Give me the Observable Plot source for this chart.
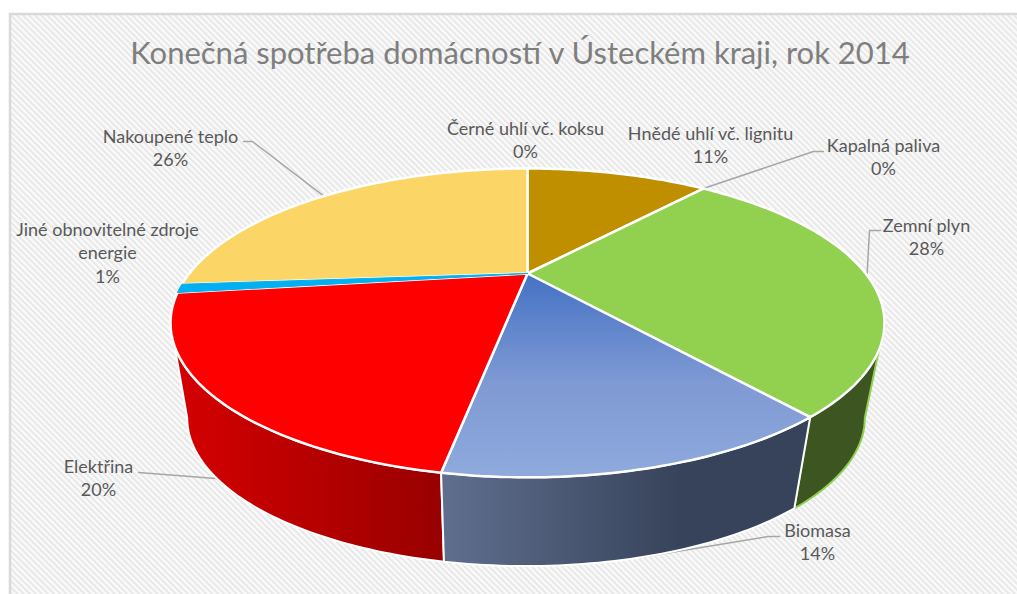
<!DOCTYPE html>
<html>
<head>
<meta charset="utf-8">
<script src="https://cdn.jsdelivr.net/npm/d3@7"></script>
<script src="https://cdn.jsdelivr.net/npm/@observablehq/plot@0.6"></script>
<style>html,body{margin:0;padding:0;background:#fff}svg{display:block}</style>
</head>
<body>
<div id="chart"></div>
<script>
// Data, in drawing order clockwise from 12 o'clock
const categories = ["Černé uhlí vč. koksu","Hnědé uhlí vč. lignitu","Kapalná paliva","Zemní plyn","Biomasa","Elektřina","Jiné obnovitelné zdroje\nenergie","Nakoupené teplo"];
const shares = [0, 11.2, 0, 28.0, 13.6, 20.1, 0.9, 26.2];
const percentLabels = ["0%","11%","0%","28%","14%","20%","1%","26%"];
const title = "Konečná spotřeba domácností v Ústeckém kraji, rok 2014";

// Styling
const topFill = ["#000","#BF8F00","#000","#92D050","url(#blueTop)","#FF0000","#00B0F0","#FBD666"];
const sideFill = [null,null,null,"#3D5520","url(#blueSide)","url(#redSide)",null,null];
const sideStroke = [null,null,null,"#8FCE50","#fff","#fff",null,null];

// Label placement (centre x, first-line middle y)
const labelX = [525,710,883,926,817,98,107,170];
const labelY = [128,133,145,225,530,466,229,136];

// Perspective of the disc
const top3d = {cx:527, cy:273, A:338.2, B:138.6, k:0.32};
const bottom3d = {cx:525.5, cy:370, A:321, B:133, k:0.32};
const project = (p, deg) => {
  const t = deg*Math.PI/180, u = Math.sin(t), v = -Math.cos(t), w = 1 - p.k*v;
  return [p.cx + p.A*u/w, p.cy + p.B*v/w];
};
const arc = (p, a, b) => {
  const n = Math.max(2, Math.ceil(Math.abs(b-a)));
  return d3.range(n+1).map(i => project(p, a + (b-a)*i/n));
};

const total = d3.sum(shares);
let acc = 0;
const slices = shares.map((s,i) => {
  const a0 = acc/total*360; acc += s; const a1 = acc/total*360;
  return {i, a0, a1, mid:(a0+a1)/2};
});

const closed = pts => [...pts, pts[0]].map(([x,y]) => ({x,y}));
const face = s => closed([[top3d.cx, top3d.cy], ...arc(top3d, s.a0, s.a1)]);
const side = (a,b) => closed([...arc(top3d,a,b), ...arc(bottom3d,b,a)]);

// Leaders: label elbow then rim of the slice
const rim = (p,deg) => { const [x,y] = project(p,deg); return {x,y}; };
const leaders = [
  [{x:243,y:141},{x:252,y:141},rim(top3d,slices[7].mid)],
  [{x:823,y:151},{x:813,y:151},rim(top3d,slices[2].mid)],
  [{x:880,y:230},{x:869,y:230},rim(top3d,slices[3].mid)],
  [{x:779,y:536},{x:768,y:536},rim(bottom3d,slices[4].mid)],
  [{x:138,y:472},{x:228,y:479}]
];

const silhouetteR = 108.7, silhouetteL = 251.3;

const defs = () => {
  const d = d3.create("svg:defs");
  const pat = d.append("pattern").attr("id","hatch").attr("patternUnits","userSpaceOnUse")
    .attr("width",4.3).attr("height",4.3).attr("patternTransform","rotate(-45)");
  pat.append("rect").attr("width",4.3).attr("height",4.3).attr("fill","#fbfbfb");
  pat.append("rect").attr("width",2.1).attr("height",4.3).attr("fill","#e8e8e8");
  const grad = (id,x1,y1,x2,y2,stops) => {
    const g = d.append("linearGradient").attr("id",id).attr("gradientUnits","userSpaceOnUse")
      .attr("x1",x1).attr("y1",y1).attr("x2",x2).attr("y2",y2);
    stops.forEach(([o,c]) => g.append("stop").attr("offset",o).attr("stop-color",c));
  };
  grad("blueTop",0,273,0,473,[[0,"#4472C4"],[0.55,"#7F9AD4"],[1,"#8EA9DB"]]);
  grad("blueSide",445,0,680,0,[[0,"#5F6E8E"],[1,"#37435A"]]);
  grad("redSide",180,0,444,0,[[0,"#D40000"],[1,"#980000"]]);
  return d.node();
};

const visible = slices.filter(s => shares[s.i] > 1);

const marks = [
  defs,
  Plot.rect([{x1:10,x2:1030,y1:14,y2:610}],{x1:"x1",x2:"x2",y1:"y1",y2:"y2",fill:"url(#hatch)",stroke:"#D9D9D9",strokeWidth:2.5}),
  // leaders
  ...leaders.map(l => Plot.line(l,{x:"x",y:"y",stroke:"#A6A6A6",strokeWidth:1.5})),
  // side walls, back to front
  Plot.line(side(silhouetteR, slices[3].a1),{x:"x",y:"y",fill:sideFill[3],stroke:sideStroke[3],strokeWidth:2}),
  Plot.line(side(slices[5].a0, silhouetteL),{x:"x",y:"y",fill:sideFill[5],stroke:sideStroke[5],strokeWidth:2}),
  Plot.line(side(slices[4].a0, slices[4].a1),{x:"x",y:"y",fill:sideFill[4],stroke:sideStroke[4],strokeWidth:2}),
  // top faces
  ...visible.map(s =>
    Plot.line(face(s),{x:"x",y:"y",fill:topFill[s.i],stroke:"#fff",strokeWidth:2.5,strokeLinejoin:"round"})),
  Plot.line(face(slices[6]),{x:"x",y:"y",fill:topFill[6],stroke:topFill[6],strokeWidth:1}),
  // title and labels
  Plot.text([title],{x:()=>519.5,y:()=>54,text:d=>d,fill:"#7F7F7F",fontSize:31,fontFamily:"Lato",textAnchor:"middle",lineAnchor:"middle"}),
  Plot.text(categories.map((c,i)=>({x:labelX[i],y:labelY[i],t:c+"\n"+percentLabels[i]})),
    {x:"x",y:"y",text:"t",fill:"#595959",fontSize:18,fontFamily:"Lato",textAnchor:"middle",lineAnchor:"top",dy:-11,lineHeight:1.33})
];

const chart = Plot.plot({
  width:1017, height:594, margin:0,
  x:{domain:[0,1017],range:[0,1017],axis:null},
  y:{domain:[0,594],range:[0,594],axis:null},
  style:{background:"#fff"},
  marks
});
document.getElementById("chart").appendChild(chart);
</script>
</body>
</html>
